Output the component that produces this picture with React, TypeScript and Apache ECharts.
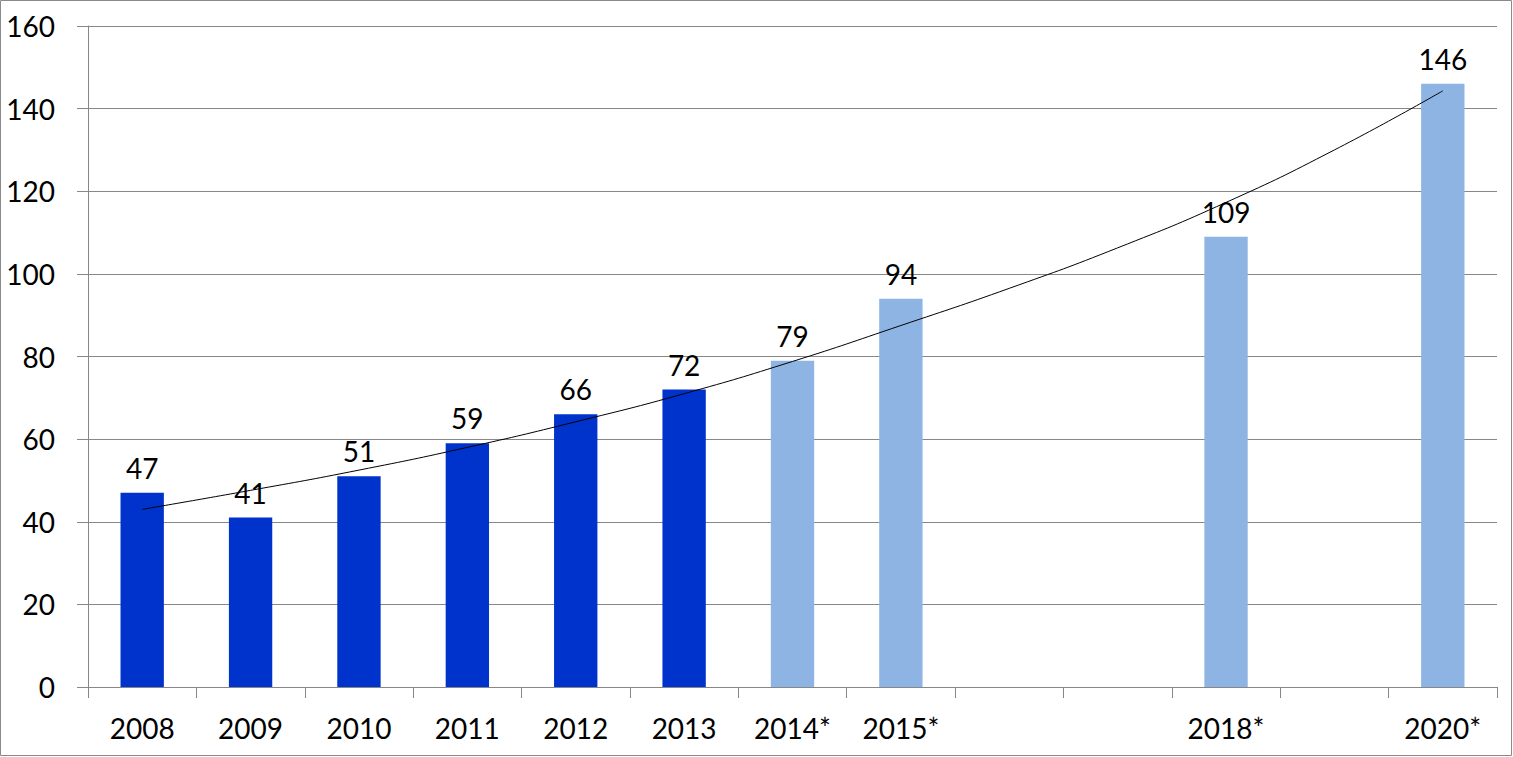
import React, { useEffect, useRef } from "react";
import * as echarts from "echarts";

// Category slots (years); only some have bars / labels
const years = ["2008", "2009", "2010", "2011", "2012", "2013", "2014*", "2015*", "2016", "2017", "2018*", "2019", "2020*"];
const shownLabels = ["2008", "2009", "2010", "2011", "2012", "2013", "2014*", "2015*", "2018*", "2020*"];
const values: (number | null)[] = [47, 41, 51, 59, 66, 72, 79, 94, null, null, 109, null, 146];
const isForecast = [false, false, false, false, false, false, true, true, true, true, true, true, true];
// Trend curve at each slot centre
const trend = [43, 47.6, 52.5, 58, 64.2, 71, 78.8, 87.5, 96.5, 106.3, 117.3, 130, 144.3];
const yMin = 0;
const yMax = 160;
const yStep = 20;

const DARK = "#0033CC";
const LIGHT = "#8EB4E3";
const GRIDC = "#878787";
const FONT = "Lato, 'Open Sans', sans-serif";

export default function App() {
  const ref = useRef<HTMLDivElement>(null);

  useEffect(() => {
    document.body.style.margin = "0";
    const chart = echarts.init(ref.current!, null, { renderer: "svg" });
    chart.setOption({
      animation: false,
      backgroundColor: "#ffffff",
      textStyle: { fontFamily: FONT },
      grid: { left: 88, right: 16, top: 26, bottom: 70, containLabel: false },
      graphic: [
        {
          type: "rect",
          silent: true,
          shape: { x: 0.5, y: 0.5, width: 1511, height: 755 },
          style: { fill: "none", stroke: "#8a8a8a", lineWidth: 1 },
        },
      ],
      xAxis: {
        type: "category",
        data: years,
        boundaryGap: true,
        axisLine: { show: true, lineStyle: { color: GRIDC, width: 1 } },
        axisTick: { show: true, length: 11, lineStyle: { color: GRIDC } },
        axisLabel: {
          interval: 0,
          margin: 27,
          fontSize: 28,
          color: "#000",
          fontFamily: FONT,
          formatter: (v: string) => (shownLabels.includes(v) ? v : ""),
        },
        splitLine: { show: false },
      },
      yAxis: {
        type: "value",
        min: yMin,
        max: yMax,
        interval: yStep,
        axisLine: { show: true, lineStyle: { color: GRIDC, width: 1 } },
        axisTick: { show: true, length: 11, lineStyle: { color: GRIDC } },
        axisLabel: { margin: 33, fontSize: 28, color: "#000", fontFamily: FONT },
        splitLine: { show: true, lineStyle: { color: GRIDC, width: 1 } },
      },
      series: [
        {
          type: "bar",
          barWidth: "40%",
          data: values.map((v, i) =>
            v === null
              ? null
              : { value: v, itemStyle: { color: isForecast[i] ? LIGHT : DARK } }
          ),
          label: {
            show: true,
            position: "top",
            distance: 11,
            fontSize: 28,
            color: "#000",
            fontFamily: FONT,
          },
          z: 2,
        },
        {
          type: "line",
          data: trend,
          smooth: true,
          showSymbol: false,
          symbol: "none",
          lineStyle: { color: "#000", width: 1 },
          z: 3,
          silent: true,
        },
      ],
    });
    return () => chart.dispose();
  }, []);

  return <div ref={ref} style={{ width: 1513, height: 757 }} />;
}
